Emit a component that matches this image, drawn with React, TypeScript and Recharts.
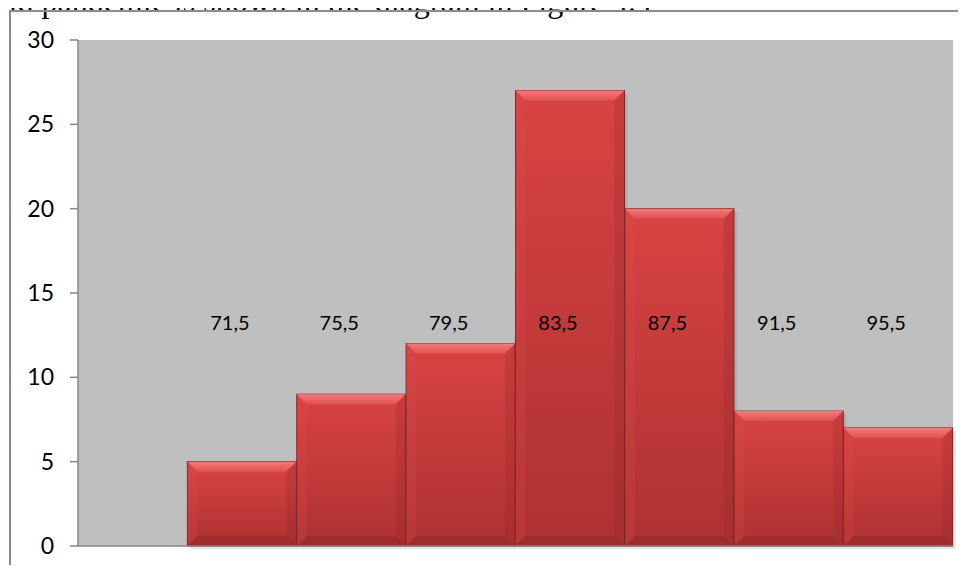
import React from "react";
import {
  BarChart,
  Bar,
  XAxis,
  YAxis,
  CartesianGrid,
  LabelList,
  ReferenceLine,
} from "recharts";

// histogram bins (first slot is an empty gap, as in the source chart)
const binLabels = ["", "71,5", "75,5", "79,5", "83,5", "87,5", "91,5", "95,5"];
const counts = [0, 5, 9, 12, 27, 20, 8, 7];
const yTicks = [0, 5, 10, 15, 20, 25, 30];

const data = binLabels.map((bin, i) => ({ bin, count: counts[i] }));

const AXIS = "#868686";
const FONT = "Lato, 'Open Sans', sans-serif";

function BevelBar(props: any) {
  const { x, y, width, height } = props;
  if (!height || height <= 0) return null;
  const b = Math.min(10, height / 2);
  return (
    <g>
      <rect x={x + 3} y={y + 3} width={width} height={height} fill="#000" opacity={0.1} />
      <rect x={x} y={y} width={width} height={height} fill="url(#barGrad)" stroke="#7d2323" strokeWidth={1} />
      <polygon
        points={`${x},${y} ${x + width},${y} ${x + width - b},${y + b} ${x + b},${y + b}`}
        fill="url(#topGrad)"
      />
      <polygon
        points={`${x + width},${y} ${x + width},${y + height} ${x + width - b},${y + height - b} ${x + width - b},${y + b}`}
        fill="#8e2626"
        opacity={0.25}
      />
      <polygon
        points={`${x},${y} ${x + b},${y + b} ${x + b},${y + height - b} ${x},${y + height}`}
        fill="#e15252"
        opacity={0.2}
      />
      <polygon
        points={`${x},${y + height} ${x + b},${y + height - b} ${x + width - b},${y + height - b} ${x + width},${y + height}`}
        fill="#7a2020"
        opacity={0.3}
      />
    </g>
  );
}

function BinLabel(props: any) {
  const { x, y, width, height, value } = props;
  if (!value) return null;
  const bottom = y + height;
  return (
    <text
      x={x + width / 2 - 12}
      y={bottom - 224}
      textAnchor="middle"
      dominantBaseline="central"
      fontFamily={FONT}
      fontSize={20}
      fill="#000"
    >
      {value}
    </text>
  );
}

export default function App() {
  return (
    <div
      style={{
        position: "relative",
        width: 966,
        height: 573,
        margin: -8,
        overflow: "hidden",
        background: "#fff",
      }}
    >
      <span
        style={{
          position: "absolute",
          right: 314,
          top: -19,
          whiteSpace: "nowrap",
          fontFamily: "'Liberation Serif', 'Times New Roman', serif",
          fontSize: 32,
          lineHeight: "40px",
          color: "#000",
        }}
      >
        world pandemic is shown in the diagram in Figure 4.4
      </span>
      <div
        style={{
          position: "absolute",
          left: 9,
          top: 10,
          width: 1000,
          height: 600,
          borderLeft: "2px solid #8c8c8c",
          borderTop: "2px solid #8c8c8c",
        }}
      />
      <div style={{ position: "absolute", left: 0, top: 0 }}>
        <BarChart
          width={966}
          height={573}
          data={data}
          margin={{ top: 40, right: 13, bottom: 27, left: 0 }}
          barCategoryGap={0}
          barGap={0}
        >
          <defs>
            <linearGradient id="barGrad" x1="0" y1="0" x2="0" y2="1">
              <stop offset="0%" stopColor="#d94343" />
              <stop offset="100%" stopColor="#ad3131" />
            </linearGradient>
            <linearGradient id="topGrad" x1="0" y1="0" x2="0" y2="1">
              <stop offset="0%" stopColor="#f37b7b" />
              <stop offset="100%" stopColor="#e05050" />
            </linearGradient>
          </defs>
          <CartesianGrid fill="#bfbfbf" horizontal={false} vertical={false} />
          <XAxis dataKey="bin" hide />
          <YAxis
            width={78}
            domain={[0, 30]}
            ticks={yTicks}
            interval={0}
            axisLine={{ stroke: AXIS, strokeWidth: 1.5 }}
            tickLine={{ stroke: AXIS, strokeWidth: 1.5 }}
            tickSize={8}
            tickMargin={16}
            tick={{ fill: "#000", fontSize: 23, fontFamily: FONT }}
          />
          <ReferenceLine y={0} stroke={AXIS} strokeWidth={1.5} />
          <Bar dataKey="count" shape={<BevelBar />} isAnimationActive={false}>
            <LabelList dataKey="bin" content={<BinLabel />} />
          </Bar>
        </BarChart>
      </div>
    </div>
  );
}
